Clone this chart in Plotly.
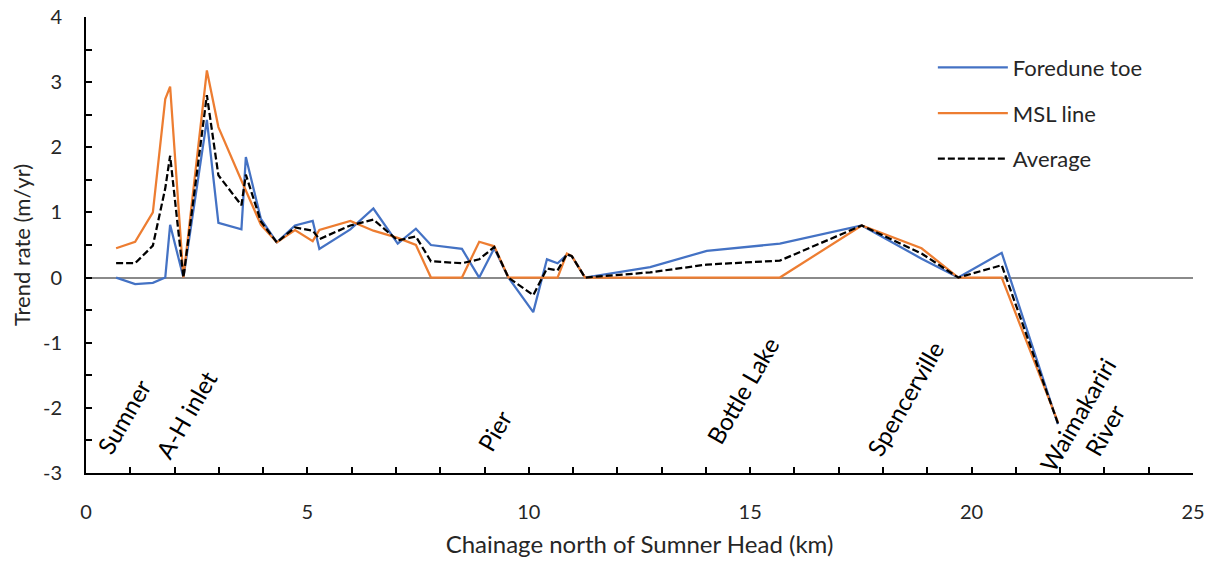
import plotly.graph_objects as go

# Chainage north of Sumner Head (km) and shoreline trend rates (m/yr)
chainage_km = [0.68, 1.11, 1.51, 1.79, 1.90, 2.20, 2.73, 2.99, 3.51, 3.61, 3.95, 4.31,
               4.72, 5.12, 5.27, 5.97, 6.49, 7.04, 7.45, 7.79, 8.49, 8.88, 9.22, 9.54,
               10.10, 10.41, 10.65, 10.86, 10.97, 11.27, 12.74, 14.02, 15.67, 17.52,
               18.87, 19.70, 20.68, 21.95]

foredune_toe = [0.00, -0.10, -0.08, 0.00, 0.81, 0.00, 2.42, 0.84, 0.74, 1.85, 0.90, 0.54,
                0.80, 0.87, 0.44, 0.74, 1.06, 0.52, 0.75, 0.50, 0.44, 0.00, 0.45, 0.00,
                -0.53, 0.28, 0.22, 0.35, 0.33, 0.00, 0.16, 0.41, 0.52, 0.80,
                0.29, 0.00, 0.38, -2.25]

msl_line = [0.45, 0.55, 1.00, 2.74, 2.93, 0.00, 3.18, 2.31, 1.49, 1.33, 0.81, 0.54,
            0.73, 0.56, 0.73, 0.87, 0.72, 0.61, 0.50, 0.00, 0.00, 0.55, 0.48, 0.00,
            0.00, 0.00, 0.00, 0.37, 0.33, 0.00, 0.00, 0.00, 0.00, 0.80,
            0.45, 0.00, 0.00, -2.22]

average = [0.22, 0.22, 0.49, 1.37, 1.87, 0.00, 2.80, 1.57, 1.11, 1.58, 0.86, 0.54,
           0.77, 0.72, 0.59, 0.80, 0.89, 0.57, 0.63, 0.25, 0.22, 0.28, 0.47, 0.00,
           -0.27, 0.14, 0.11, 0.36, 0.33, 0.00, 0.08, 0.20, 0.26, 0.80,
           0.37, 0.00, 0.19, -2.24]

# Axis ticks (plain hyphen minus signs)
y_tickvals = [-3, -2, -1, 0, 1, 2, 3, 4]
y_ticktext = ["-3", "-2", "-1", "0", "1", "2", "3", "4"]
x_tickvals = [0, 5, 10, 15, 20, 25]
x_ticktext = ["0", "5", "10", "15", "20", "25"]

# Place names along the coast: (text, chainage km, trend-rate position)
place_names = ["Sumner", "A-H inlet", "Pier", "Bottle Lake", "Spencerville", "Waimakariri<br>River"]
place_x = [0.86, 2.26, 9.22, 14.83, 18.49, 22.70]
place_y = [-2.14, -2.10, -2.34, -1.74, -1.85, -2.22]

FONT = "Lato, 'Open Sans', sans-serif"
TEXT = "#262626"

fig = go.Figure()
fig.add_trace(go.Scatter(x=chainage_km, y=foredune_toe, mode="lines", name="Foredune toe",
                         legendgroup="a", line=dict(color="#4472C4", width=2.25)))
fig.add_trace(go.Scatter(x=chainage_km, y=msl_line, mode="lines", name="MSL line",
                         legendgroup="b", line=dict(color="#ED7D31", width=2.25)))
fig.add_trace(go.Scatter(x=chainage_km, y=average, mode="lines", name="Average",
                         legendgroup="c", line=dict(color="black", width=2.25, dash="7px,3px")))

for name, px, py in zip(place_names, place_x, place_y):
    fig.add_annotation(x=px, y=py, text=name, showarrow=False, textangle=-60,
                       xanchor="center", yanchor="middle",
                       font=dict(family=FONT, size=24, color="black"))

fig.update_layout(
    width=1217, height=562,
    margin=dict(l=86, r=24, t=17, b=89, autoexpand=False),
    paper_bgcolor="white", plot_bgcolor="white",
    font=dict(family=FONT, size=20, color=TEXT),
    showlegend=True,
    legend=dict(x=0.765, y=0.935, xanchor="left", yanchor="top",
                bgcolor="rgba(0,0,0,0)", tracegroupgap=14, itemwidth=70,
                font=dict(family=FONT, size=22, color=TEXT)),
    xaxis=dict(range=[0, 25], tickvals=x_tickvals, ticktext=x_ticktext,
               showgrid=False, zeroline=False,
               showline=True, linecolor="black", linewidth=2,
               ticks="inside", ticklen=6, tickwidth=1.5, tickcolor="black",
               minor=dict(dtick=1, ticks="inside", ticklen=6, tickwidth=1.5, tickcolor="black"),
               ticklabelstandoff=20, tickfont=dict(family=FONT, size=20, color=TEXT),
               title=dict(text="Chainage north of Sumner Head (km)", standoff=14,
                          font=dict(family=FONT, size=24, color=TEXT))),
    yaxis=dict(range=[-3, 4], tickvals=y_tickvals, ticktext=y_ticktext, showgrid=False,
               zeroline=True, zerolinecolor="#8a8a8a", zerolinewidth=1.5,
               showline=True, linecolor="black", linewidth=2,
               ticks="inside", ticklen=6, tickwidth=1.5, tickcolor="black",
               minor=dict(dtick=0.5, ticks="inside", ticklen=6, tickwidth=1.5, tickcolor="black"),
               ticklabelstandoff=18, tickfont=dict(family=FONT, size=20, color=TEXT),
               title=dict(text="Trend rate (m/yr)", standoff=6,
                          font=dict(family=FONT, size=22, color=TEXT))),
)

fig.write_html("out.html")
